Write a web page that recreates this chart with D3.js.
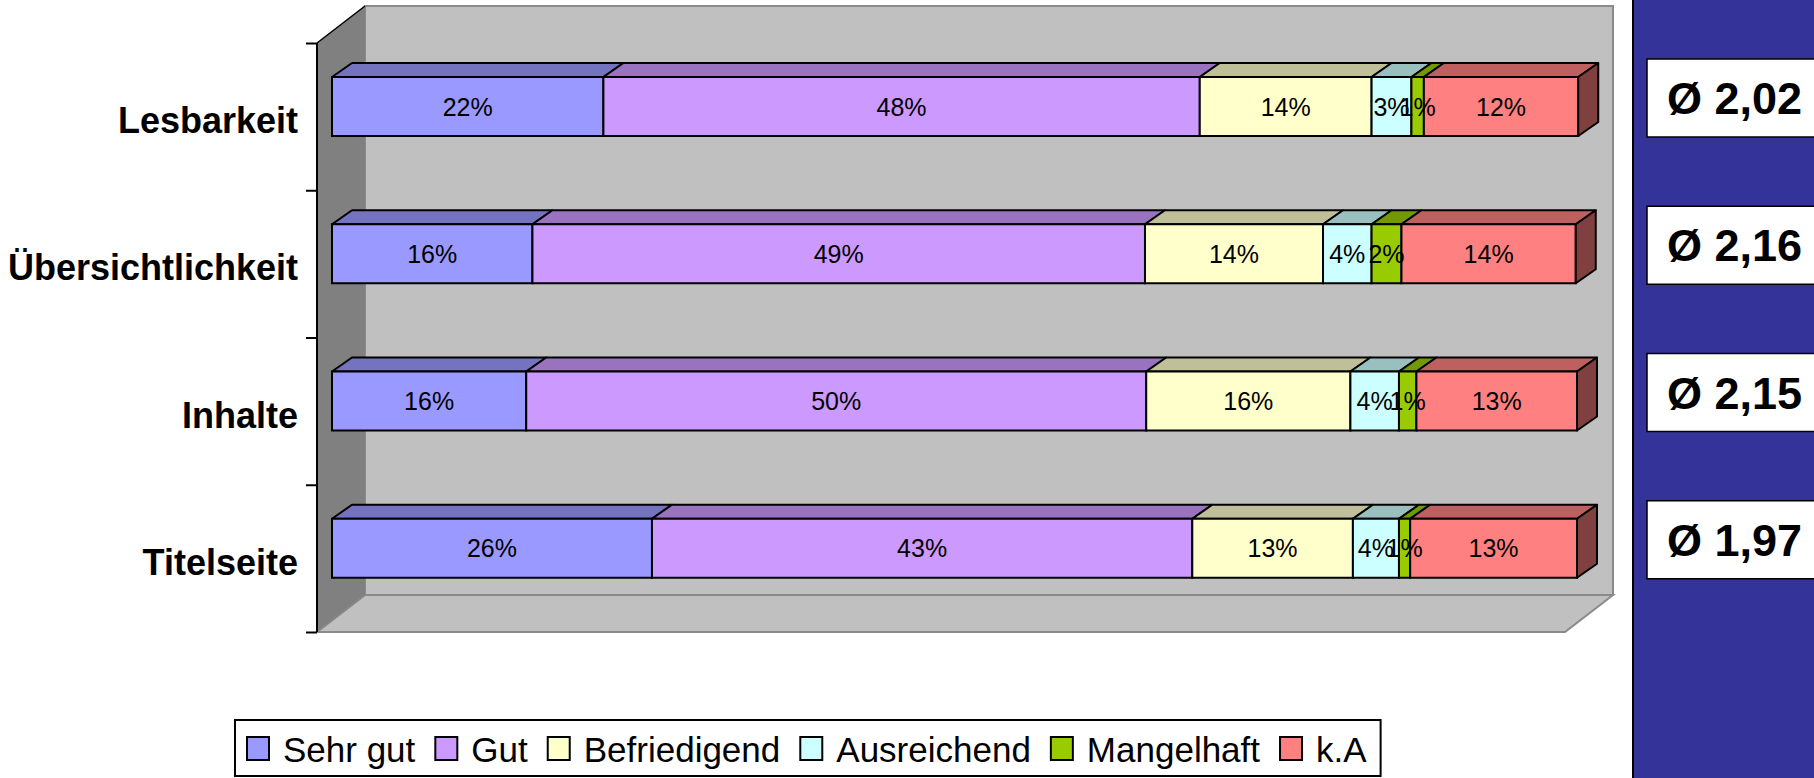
<!DOCTYPE html>
<html>
<head>
<meta charset="utf-8">
<script src="https://cdn.jsdelivr.net/npm/d3@7"></script>
<style>
  html, body { margin: 0; padding: 0; background: #fff; }
  svg { display: block; font-family: "Liberation Sans", Arial, sans-serif; }
</style>
</head>
<body>
<svg id="chart" width="1814" height="778"></svg>
<script>
// ---- data ----
const categories = ["Lesbarkeit", "Übersichtlichkeit", "Inhalte", "Titelseite"];
const seriesNames = ["Sehr gut", "Gut", "Befriedigend", "Ausreichend", "Mangelhaft", "k.A"];
const sehrGut      = [21.8, 16.1, 15.6, 25.7];
const gut          = [47.9, 49.2, 49.8, 43.4];
const befriedigend = [13.8, 14.3, 16.4, 12.9];
const ausreichend  = [3.2, 3.9, 3.9, 3.7];
const mangelhaft   = [1.0, 2.4, 1.4, 0.9];
const kA           = [12.4, 14.0, 12.9, 13.4];
const averages     = [2.02, 2.16, 2.15, 1.97];
const seriesColors = ["#9999FF", "#CC99FF", "#FFFFCC", "#CCFFFF", "#99CC00", "#FF8080"];

const seriesValues = [sehrGut, gut, befriedigend, ausreichend, mangelhaft, kA];
const rows = categories.map((c, i) => {
  const r = { category: c };
  seriesNames.forEach((s, j) => r[s] = seriesValues[j][i]);
  return r;
});

const svg = d3.select("#chart");

// ---- geometry ----
const axisX = 317, wallDX = 48, wallDY = 37;
const plotTop = 43, plotBottom = 632, plotRight = 1565;
const y = d3.scaleBand().domain(categories).range([plotTop, plotBottom]);
const x = d3.scaleLinear().domain([0, 100]).range([332, 1577]);
const barOffset = 34, barH = 59, dx = 20, dy = 14;

// ---- walls ----
svg.append("rect")
  .attr("x", axisX + wallDX).attr("y", plotTop - wallDY)
  .attr("width", plotRight + wallDX - (axisX + wallDX)).attr("height", plotBottom - plotTop)
  .attr("fill", "#C0C0C0").attr("stroke", "#8a8a8a").attr("stroke-width", 2);
svg.append("polygon")
  .attr("points", [[axisX, plotBottom], [axisX + wallDX, plotBottom - wallDY],
                   [plotRight + wallDX, plotBottom - wallDY], [plotRight, plotBottom]].join(" "))
  .attr("fill", "#C0C0C0").attr("stroke", "#8a8a8a").attr("stroke-width", 2);
svg.append("polygon")
  .attr("points", [[axisX, plotTop], [axisX + wallDX, plotTop - wallDY],
                   [axisX + wallDX, plotBottom - wallDY], [axisX, plotBottom]].join(" "))
  .attr("fill", "#808080").attr("stroke", "none");
svg.append("line")
  .attr("x1", axisX).attr("y1", plotTop).attr("x2", axisX + wallDX).attr("y2", plotTop - wallDY)
  .attr("stroke", "#000").attr("stroke-width", 1.5);
svg.append("line")
  .attr("x1", axisX).attr("y1", plotBottom).attr("x2", axisX + wallDX).attr("y2", plotBottom - wallDY)
  .attr("stroke", "#8a8a8a").attr("stroke-width", 1.5);

// axis
const tickScale = d3.scaleLinear().domain([0, categories.length]).range([plotTop, plotBottom]);
const axis = d3.axisLeft(tickScale).tickValues(d3.range(0, categories.length + 1))
  .tickSize(11).tickFormat("");
svg.append("g").attr("transform", `translate(${axisX},0)`).call(axis)
  .call(g => g.select(".domain").attr("stroke", "#000").attr("stroke-width", 2).attr("d", `M0,${plotTop}V${plotBottom}`))
  .call(g => g.selectAll(".tick line").attr("stroke", "#000").attr("stroke-width", 2));

// ---- bars ----
const stack = d3.stack().keys(seriesNames);
const stacked = stack(rows);
const shade = (c, k) => { const o = d3.rgb(c); return d3.rgb(o.r * k, o.g * k, o.b * k).toString(); };

const barsG = svg.append("g");
categories.forEach((c, ci) => {
  const top = y(c) + barOffset;
  const g = barsG.append("g");
  stacked.forEach((layer, si) => {
    const d = layer[ci];
    const x0 = x(d[0]), x1 = x(d[1]);
    g.append("polygon")
      .attr("points", [[x0, top], [x0 + dx, top - dy], [x1 + dx, top - dy], [x1, top]].join(" "))
      .attr("fill", shade(seriesColors[si], 0.75)).attr("stroke", "#000").attr("stroke-width", 2)
      .attr("stroke-linejoin", "round");
    g.append("rect")
      .attr("x", x0).attr("y", top).attr("width", x1 - x0).attr("height", barH)
      .attr("fill", seriesColors[si]).attr("stroke", "#000").attr("stroke-width", 2);
    if (si === stacked.length - 1) {
      g.append("polygon")
        .attr("points", [[x1, top], [x1 + dx, top - dy], [x1 + dx, top - dy + barH], [x1, top + barH]].join(" "))
        .attr("fill", shade(seriesColors[si], 0.5)).attr("stroke", "#000").attr("stroke-width", 2)
        .attr("stroke-linejoin", "round");
    }
  });
});

// value labels
const labelsG = svg.append("g");
categories.forEach((c, ci) => {
  const top = y(c) + barOffset;
  stacked.forEach((layer, si) => {
    const d = layer[ci];
    labelsG.append("text")
      .attr("x", (x(d[0]) + x(d[1])) / 2).attr("y", top + barH / 2 + 9)
      .attr("text-anchor", "middle").attr("font-size", 25).attr("fill", "#000")
      .text(Math.round(d[1] - d[0]) + "%");
  });
});

// category labels
svg.append("g").selectAll("text").data(categories).join("text")
  .attr("x", 298).attr("y", d => y(d) + barOffset + 56)
  .attr("text-anchor", "end").attr("font-size", 36).attr("font-weight", "bold")
  .text(d => d);

// ---- right panel ----
svg.append("rect").attr("x", 1633).attr("y", -2).attr("width", 200).attr("height", 782)
  .attr("fill", "#333399").attr("stroke", "#000").attr("stroke-width", 2);
const fmt = v => "Ø " + v.toFixed(2).replace(".", ",");
categories.forEach((c, ci) => {
  const bt = y(c) + 16;
  svg.append("rect").attr("x", 1647).attr("y", bt).attr("width", 200).attr("height", 78)
    .attr("fill", "#fff").attr("stroke", "#000").attr("stroke-width", 1.5);
  svg.append("text").attr("x", 1667).attr("y", bt + 39).attr("dy", "0.36em")
    .attr("font-size", 45).attr("font-weight", "bold").attr("fill", "#000")
    .text(fmt(averages[ci]));
});

// ---- legend ----
const legend = svg.append("g");
const legendBox = legend.append("rect").attr("x", 235).attr("y", 720).attr("height", 56)
  .attr("fill", "#fff").attr("stroke", "#000").attr("stroke-width", 2);
let lx = 247;
seriesNames.forEach((s, i) => {
  legend.append("rect").attr("x", lx).attr("y", 737).attr("width", 22).attr("height", 23)
    .attr("fill", seriesColors[i]).attr("stroke", "#000").attr("stroke-width", 2);
  const t = legend.append("text").attr("x", lx + 36).attr("y", 762)
    .attr("font-size", 35).attr("fill", "#000").text(s);
  lx = lx + 36 + t.node().getComputedTextLength() + 20;
});
legendBox.attr("width", lx - 20 + 14 - 235);
</script>
</body>
</html>
